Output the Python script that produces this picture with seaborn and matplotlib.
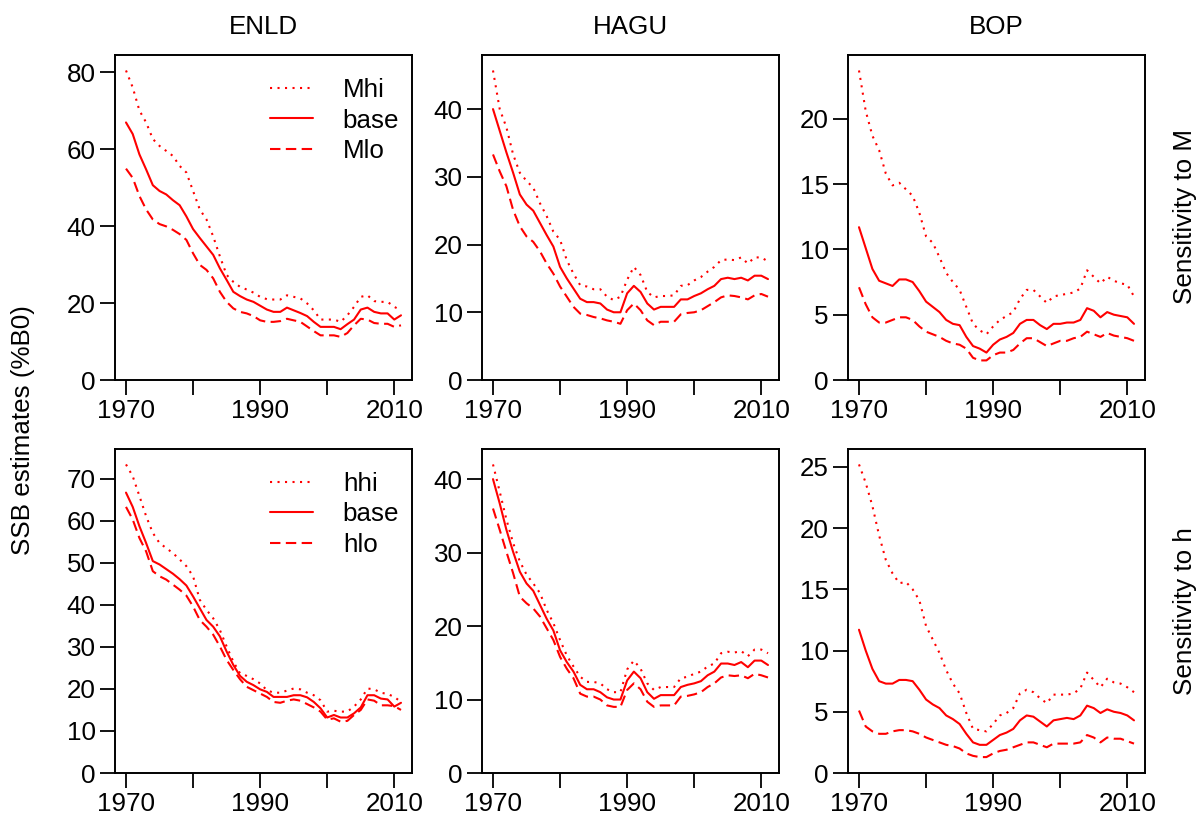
import matplotlib
matplotlib.use("Agg")
import matplotlib.pyplot as plt
import seaborn as sns
import pandas as pd

sns.set_theme(style="white")
plt.rcParams["font.family"] = ["Liberation Sans", "DejaVu Sans"]
plt.rcParams["text.color"] = "black"
plt.rcParams["axes.labelcolor"] = "black"
plt.rcParams["xtick.color"] = "black"
plt.rcParams["ytick.color"] = "black"

years = list(range(1970, 2012))

stocks = ["ENLD", "HAGU", "BOP"]

# Sensitivity to natural mortality (M)
enld_M_hi = [80.4, 76.0, 70.0, 66.9, 62.6, 60.8, 59.5, 58.2, 55.6, 53.9,
             49.1, 44.3, 41.7, 37.3, 32.1, 27.3, 25.5, 24.2, 23.5, 22.7,
             21.6, 21.0, 20.9, 20.9, 22.0, 21.6, 21.2, 19.9, 18.1, 15.7,
             15.7, 15.7, 15.1, 16.8, 19.0, 21.6, 22.0, 20.5, 20.3, 20.3,
             19.0, 18.1]
enld_M_base = [66.9, 63.9, 58.6, 54.7, 50.6, 49.1, 48.2, 46.7, 45.4, 42.5,
               39.2, 36.9, 34.7, 32.5, 29.0, 26.0, 22.9, 21.8, 20.9, 20.3,
               19.3, 18.3, 17.7, 17.7, 18.8, 18.1, 17.4, 16.6, 15.1, 13.8,
               13.8, 13.8, 13.2, 14.5, 15.7, 18.3, 18.8, 17.7, 17.3, 17.3,
               15.7, 16.8]
enld_M_lo = [54.9, 52.5, 47.8, 44.3, 41.7, 40.5, 39.9, 39.0, 37.9, 36.4,
             32.9, 29.9, 28.6, 26.4, 22.9, 20.3, 18.6, 17.7, 17.3, 16.6,
             15.5, 15.1, 15.1, 15.3, 15.9, 15.5, 15.1, 13.9, 12.7, 11.6,
             11.6, 11.6, 11.2, 12.2, 14.2, 15.9, 15.7, 14.8, 14.6, 14.6,
             13.8, 14.2]

hagu_M_hi = [45.7, 40.0, 37.3, 33.3, 30.6, 29.4, 28.4, 26.1, 24.2, 21.9,
             20.7, 17.7, 15.7, 14.0, 13.8, 13.4, 13.4, 12.3, 11.8, 12.3,
             14.8, 16.7, 15.5, 13.0, 12.2, 12.4, 12.4, 12.5, 13.9, 14.0,
             14.7, 15.2, 16.0, 16.7, 17.7, 17.8, 17.7, 18.1, 17.2, 18.1,
             18.1, 17.5]
hagu_M_base = [40.0, 36.8, 33.6, 30.6, 27.4, 25.9, 25.0, 23.2, 21.4, 19.7,
               16.7, 15.0, 13.5, 12.0, 11.5, 11.5, 11.3, 10.4, 10.0, 10.0,
               12.8, 13.9, 13.0, 11.3, 10.4, 10.8, 10.8, 10.8, 11.9, 11.9,
               12.4, 12.8, 13.4, 13.9, 14.9, 15.1, 14.9, 15.1, 14.7, 15.4,
               15.4, 14.9]
hagu_M_lo = [33.3, 30.8, 28.6, 25.1, 22.7, 21.2, 20.4, 19.0, 17.2, 15.7,
             13.8, 12.3, 10.8, 9.8, 9.6, 9.3, 9.1, 8.8, 8.6, 8.3,
             10.3, 11.3, 10.3, 8.8, 8.1, 8.6, 8.6, 8.6, 9.7, 9.9,
             10.0, 10.3, 10.9, 11.5, 12.2, 12.5, 12.4, 12.2, 11.9, 12.5,
             12.7, 12.3]

bop_M_hi = [23.7, 20.6, 18.7, 17.6, 15.8, 14.9, 15.1, 14.6, 14.1, 12.8,
            11.0, 10.5, 9.4, 8.2, 7.5, 6.9, 5.6, 4.3, 3.8, 3.5,
            4.1, 4.6, 4.9, 5.2, 6.2, 6.9, 6.9, 6.4, 5.9, 6.4,
            6.5, 6.6, 6.7, 7.0, 8.4, 7.9, 7.4, 7.9, 7.6, 7.4,
            7.3, 6.4]
bop_M_base = [11.7, 10.1, 8.5, 7.6, 7.4, 7.2, 7.7, 7.7, 7.5, 6.8,
              6.0, 5.6, 5.2, 4.6, 4.3, 4.2, 3.3, 2.6, 2.4, 2.1,
              2.7, 3.1, 3.3, 3.6, 4.3, 4.6, 4.6, 4.2, 3.9, 4.3,
              4.3, 4.4, 4.4, 4.6, 5.5, 5.3, 4.8, 5.2, 5.0, 4.9,
              4.8, 4.3]
bop_M_lo = [7.1, 5.8, 4.8, 4.4, 4.4, 4.6, 4.8, 4.8, 4.6, 4.1,
            3.7, 3.5, 3.3, 3.0, 2.8, 2.7, 2.4, 1.7, 1.5, 1.5,
            1.9, 2.1, 2.1, 2.3, 2.8, 3.2, 3.2, 2.9, 2.6, 2.8,
            3.0, 3.0, 3.2, 3.3, 3.7, 3.5, 3.3, 3.6, 3.4, 3.3,
            3.2, 3.0]

# Sensitivity to steepness (h)
enld_h_hi = [73.4, 70.6, 65.9, 61.1, 57.1, 54.7, 53.5, 52.3, 50.8, 49.2,
             46.8, 41.2, 38.8, 36.8, 34.0, 30.1, 26.5, 23.7, 23.1, 22.3,
             21.3, 19.7, 19.1, 19.1, 19.6, 20.1, 19.9, 19.1, 18.5, 17.3,
             14.6, 14.8, 14.6, 14.6, 15.8, 17.5, 20.1, 19.9, 19.1, 18.8,
             18.1, 16.9]
enld_h_base = [66.7, 63.3, 58.7, 54.7, 50.4, 49.6, 48.5, 47.4, 46.1, 44.6,
               42.0, 39.2, 36.4, 34.8, 32.5, 28.9, 25.7, 23.1, 21.7, 20.9,
               19.9, 19.3, 18.1, 18.1, 18.1, 18.5, 18.5, 18.0, 16.9, 15.4,
               13.2, 13.8, 13.2, 13.2, 14.2, 15.6, 18.5, 18.5, 17.7, 17.5,
               15.8, 16.7]
enld_h_lo = [63.3, 60.3, 55.9, 52.7, 48.0, 46.8, 46.0, 44.8, 43.6, 42.2,
             39.6, 36.4, 34.8, 32.9, 30.1, 26.9, 24.5, 22.3, 20.5, 19.7,
             18.9, 18.1, 16.9, 16.7, 17.2, 17.5, 17.2, 16.4, 15.6, 14.6,
             12.7, 13.0, 12.2, 12.4, 13.8, 15.0, 17.5, 17.2, 16.1, 16.1,
             15.9, 15.0]

hagu_h_hi = [42.0, 38.3, 34.5, 31.3, 28.8, 27.0, 25.8, 24.5, 22.2, 20.4,
             18.1, 16.0, 14.5, 13.1, 12.4, 12.4, 12.2, 11.4, 11.0, 11.0,
             14.1, 15.3, 14.2, 12.2, 11.3, 11.7, 11.7, 11.7, 12.9, 13.1,
             13.5, 13.8, 14.5, 14.9, 16.3, 16.5, 16.4, 16.6, 15.9, 16.8,
             16.8, 16.3]
hagu_h_base = [40.0, 36.7, 33.1, 30.1, 27.4, 25.8, 24.8, 22.9, 21.0, 19.4,
               16.7, 15.1, 13.8, 12.0, 11.4, 11.4, 11.0, 10.3, 10.0, 10.0,
               12.6, 13.8, 12.9, 11.0, 10.1, 10.6, 10.6, 10.6, 11.7, 12.0,
               12.2, 12.5, 13.3, 13.8, 14.9, 14.9, 14.7, 15.1, 14.4, 15.3,
               15.3, 14.7]
hagu_h_lo = [36.0, 33.1, 30.1, 27.2, 24.0, 23.1, 22.4, 21.3, 19.7, 18.1,
             15.8, 14.2, 12.9, 10.8, 10.4, 10.4, 10.0, 9.2, 9.0, 9.0,
             11.3, 12.2, 11.4, 9.7, 9.0, 9.2, 9.2, 9.2, 10.4, 10.5,
             10.7, 11.0, 11.7, 12.2, 13.0, 13.3, 13.2, 13.3, 12.9, 13.5,
             13.3, 13.0]

bop_h_hi = [25.2, 23.7, 21.8, 19.4, 17.4, 16.3, 15.5, 15.6, 15.0, 14.1,
            12.0, 10.9, 9.8, 8.4, 7.3, 6.5, 4.9, 3.6, 3.5, 3.4,
            4.0, 4.7, 4.9, 5.3, 6.5, 6.8, 6.6, 6.1, 5.7, 6.4,
            6.4, 6.4, 6.5, 6.9, 8.2, 7.6, 7.0, 7.7, 7.4, 7.3,
            7.0, 6.6]
bop_h_base = [11.7, 10.0, 8.5, 7.5, 7.3, 7.3, 7.6, 7.6, 7.5, 6.8,
              6.0, 5.6, 5.3, 4.7, 4.4, 4.0, 3.2, 2.5, 2.3, 2.3,
              2.7, 3.1, 3.3, 3.6, 4.3, 4.7, 4.6, 4.2, 3.8, 4.3,
              4.4, 4.5, 4.4, 4.7, 5.5, 5.3, 4.9, 5.2, 5.0, 4.9,
              4.7, 4.3]
bop_h_lo = [5.1, 3.8, 3.4, 3.2, 3.2, 3.4, 3.5, 3.5, 3.4, 3.2,
            2.9, 2.7, 2.5, 2.3, 2.2, 2.0, 1.6, 1.4, 1.3, 1.3,
            1.6, 1.8, 1.9, 2.1, 2.3, 2.5, 2.5, 2.3, 2.1, 2.4,
            2.4, 2.4, 2.4, 2.5, 3.1, 2.9, 2.5, 2.9, 2.8, 2.8,
            2.6, 2.4]

y_ticks = {
    ("M", "ENLD"): [0, 20, 40, 60, 80],
    ("M", "HAGU"): [0, 10, 20, 30, 40],
    ("M", "BOP"): [0, 5, 10, 15, 20],
    ("h", "ENLD"): [0, 10, 20, 30, 40, 50, 60, 70],
    ("h", "HAGU"): [0, 10, 20, 30, 40],
    ("h", "BOP"): [0, 5, 10, 15, 20, 25],
}
x_ticks = [1970, 1980, 1990, 2000, 2010]
x_tick_labels = ["1970", "", "1990", "", "2010"]

runs = {
    ("M", "ENLD"): (enld_M_hi, enld_M_base, enld_M_lo),
    ("M", "HAGU"): (hagu_M_hi, hagu_M_base, hagu_M_lo),
    ("M", "BOP"): (bop_M_hi, bop_M_base, bop_M_lo),
    ("h", "ENLD"): (enld_h_hi, enld_h_base, enld_h_lo),
    ("h", "HAGU"): (hagu_h_hi, hagu_h_base, hagu_h_lo),
    ("h", "BOP"): (bop_h_hi, bop_h_base, bop_h_lo),
}

W, H = 1198, 821
fig = plt.figure(figsize=(W / 100, H / 100), dpi=100)

FS = 18.7
RED = "#ff0000"
styles = [(0, (1, 2.6)), "-", (0, (5, 2.6))]

col_left = [115, 482, 848]
col_w = 297
row_top = [55, 449]
row_h = [325, 324]

for r, param in enumerate(["M", "h"]):
    for c, stock in enumerate(stocks):
        ax = fig.add_axes([col_left[c] / W, 1 - (row_top[r] + row_h[r]) / H,
                           col_w / W, row_h[r] / H])
        hi, base, lo = runs[(param, stock)]
        labels = [param + "hi", "base", param + "lo"]
        for vals, ls, lab in zip((hi, base, lo), styles, labels):
            df = pd.DataFrame({"year": years, "ssb": vals})
            sns.lineplot(data=df, x="year", y="ssb", ax=ax, color=RED,
                         linewidth=1.5, linestyle=ls, label=lab, legend=False)
        top = max(max(hi), max(base), max(lo)) * 1.05
        ax.set_ylim(0, top)
        span = years[-1] - years[0]
        ax.set_xlim(years[0] - 0.04 * span, years[-1] + 0.04 * span)
        ax.set_xticks(x_ticks)
        ax.set_xticklabels(x_tick_labels)
        ax.set_yticks(y_ticks[(param, stock)])
        ax.set_xlabel("")
        ax.set_ylabel("")
        ax.tick_params(direction="out", length=10.8, width=1.3, labelsize=FS,
                       pad=3.0, colors="black", bottom=True, left=True)
        for s in ax.spines.values():
            s.set_color("black")
            s.set_linewidth(1.4)
        if c == 0:
            ax.legend(loc="upper left", bbox_to_anchor=(0.522, 0.93),
                      frameon=False, fontsize=FS, handlelength=1.65,
                      handletextpad=1.15, labelspacing=0.26, borderpad=0,
                      borderaxespad=0)
        if r == 0:
            fig.text((col_left[c] + col_w / 2) / W, 1 - 27 / H, stock,
                     ha="center", va="center", fontsize=FS)

fig.text(1185 / W, 1 - 217 / H, "Sensitivity to M", rotation=90,
         ha="center", va="center", fontsize=FS)
fig.text(1185 / W, 1 - 611 / H, "Sensitivity to h", rotation=90,
         ha="center", va="center", fontsize=FS)
fig.text(23 / W, 1 - 430 / H, "SSB estimates (%B0)", rotation=90,
         ha="center", va="center", fontsize=FS)

fig.savefig("out.png", dpi=100, facecolor="white")
